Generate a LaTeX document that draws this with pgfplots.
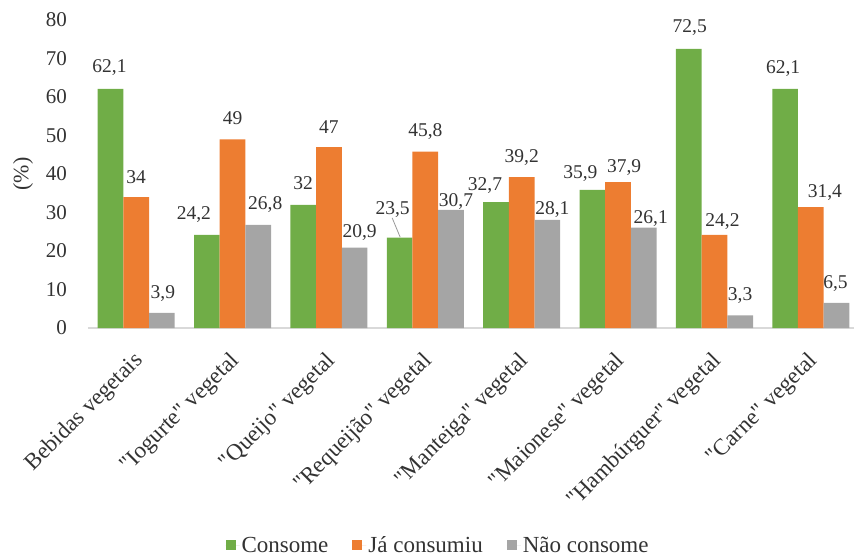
\documentclass[border=0pt]{standalone}
\usepackage{fontspec}
\setmainfont{Liberation Serif}[Ligatures=TeXOff]
\usepackage{pgfplots}
\usepackage{pgfplotstable}
\pgfplotsset{compat=1.18}

\definecolor{cgreen}{HTML}{70AD47}
\definecolor{corange}{HTML}{ED7D31}
\definecolor{cgray}{HTML}{A5A5A5}
\definecolor{txt}{HTML}{333333}

% category index and percentage for each answer
\pgfplotstableread{
x y
0 62.1
1 24.2
2 32
3 23.5
4 32.7
5 35.9
6 72.5
7 62.1
}\consome

\pgfplotstableread{
x y
0 34
1 49
2 47
3 45.8
4 39.2
5 37.9
6 24.2
7 31.4
}\jaconsumiu

\pgfplotstableread{
x y
0 3.9
1 26.8
2 20.9
3 30.7
4 28.1
5 26.1
6 3.3
7 6.5
}\naoconsome

% value-label offsets (pt) from the top of each bar
\def\cdx{{-1,-13,0,-7,-11,-12,1,-2}}
\def\cdy{{21,20,22,27.5,17,16,21,20}}
\def\jdx{{0,0,0,0,0,6,8,14}}
\def\jdy{{20,21,20,20,19.5,14.5,13,15}}
\def\ndx{{1,7,5,5,5,7,0,-1}}
\def\ndy{{19,20,15,8,10,9,20,19}}

\pgfplotsset{
  barlabels/.style 2 args={
    nodes near coords={\pgfmathprintnumber[use comma,fixed,precision=1]{\pgfplotspointmeta}},
    nodes near coords align={center},
    visualization depends on={value \coordindex \as \idx},
    every node near coord/.append style={font=\fontsize{19.5}{20}\selectfont, text=txt,
      anchor=center, xshift={#1[\idx]*1pt}, yshift={#2[\idx]*1pt}},
  },
}

\begin{document}
\begin{tikzpicture}
\path[use as bounding box] (-88pt,-229pt) rectangle (766pt,328pt);
\begin{axis}[
  at={(0pt,0pt)}, anchor=south west,
  scale only axis, width=766pt, height=308pt,
  xmin=-0.5, xmax=7.448, ymin=0, ymax=80,
  ybar, bar width=25.7pt,
  clip=false,
  axis lines*=left,
  x axis line style={draw=black!15, line width=1.2pt},
  y axis line style={draw=none},
  major tick length=0pt,
  ytick={0,10,...,80},
  xtick={0,...,7},
  xticklabels={Bebidas vegetais,"Iogurte" vegetal,"Queijo" vegetal,"Requeijão" vegetal,"Manteiga" vegetal,"Maionese" vegetal,"Hambúrguer" vegetal,"Carne" vegetal},
  /pgf/number format/assume math mode=true,
  yticklabel style={font=\fontsize{21}{22}\selectfont, text=txt, inner sep=0pt, anchor=east, xshift=-21pt},
  xticklabel style={font=\fontsize{23}{24}\selectfont, text=txt, inner sep=0pt, anchor=north east, xshift=-4pt, yshift=-22pt, rotate=45},
  ylabel={(\%)},
  ylabel style={font=\fontsize{22}{23}\selectfont, text=txt, at={(axis description cs:-0.0849,0.5)}, anchor=center},
  legend columns=3,
  legend style={at={(0.457,-0.705)}, anchor=center, draw=none,
    font=\fontsize{23}{24}\selectfont, text=txt,
    /tikz/every even column/.append style={column sep=22pt}},
  legend image code/.code={\fill[#1] (0pt,-5pt) rectangle (10pt,5pt); \path (0pt,0pt) -- (14pt,0pt);},
]
\addplot[fill=cgreen, draw=none, bar shift=-25.7pt, barlabels={\cdx}{\cdy}] table[x=x, y=y] {\consome};
\addlegendentry{Consome}
\addplot[fill=corange, draw=none, bar shift=0pt, barlabels={\jdx}{\jdy}] table[x=x, y=y] {\jaconsumiu};
\addlegendentry{Já consumiu}
\addplot[fill=cgray, draw=none, bar shift=25.7pt, barlabels={\ndx}{\ndy}] table[x=x, y=y] {\naoconsome};
\addlegendentry{Não consome}
% leader line from the shifted label to its bar
\draw[black!40, line width=0.8pt] (axis cs:2.656,28.6) -- (axis cs:2.739,23.6);
\end{axis}
\end{tikzpicture}
\end{document}
